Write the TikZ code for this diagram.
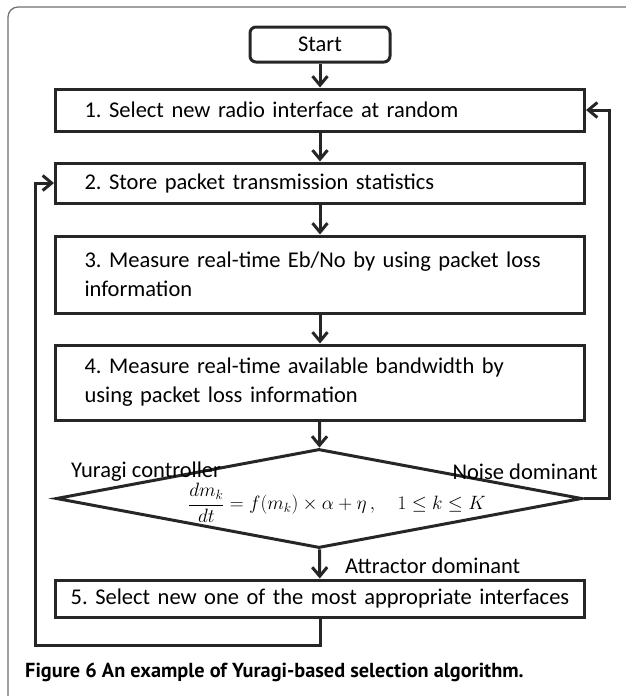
\documentclass[tikz,border=0pt]{standalone}
\usepackage{graphicx}
\usepackage{fontspec}
\setmainfont{Carlito}
\newfontfamily\capfont{PT Sans}
\usetikzlibrary{arrows.meta,shapes.geometric,positioning}

\definecolor{linegray}{HTML}{262626}
\definecolor{framegray}{HTML}{6E6E6E}

\newcommand\stepfont{\fontsize{22.5}{29}\selectfont\frenchspacing\hyphenpenalty=10000\relax}

\tikzset{
    stepbox/.style={draw=linegray,line width=3pt,minimum width=529pt,text width=471pt,
        inner xsep=29pt,inner ysep=0pt,align=left,font=\stepfont},
    startbox/.style={draw=linegray,line width=3pt,rounded corners=6pt,minimum width=140pt,
        minimum height=35pt,font=\fontsize{22.5}{26}\selectfont},
    flow/.style={draw=linegray,line width=3pt,-{Straight Barb[length=9pt,width=15pt]}},
    lbl/.style={font=\fontsize{22.5}{26}\selectfont,inner sep=0pt}
}

\begin{document}
\begin{tikzpicture}[x=1pt,y=1pt]
    \useasboundingbox (0,0) rectangle (625,-696);
    % outer frame of the figure
    \draw [framegray,line width=1.2pt,rounded corners=10pt] (8,-760) -- (8,-7) -- (700,-7);

    \node [startbox] (start) at (320,-44.5) {Start};
    \node [stepbox,minimum height=42pt] (sel) at (320,-110) {1. Select new radio interface at random};
    \node [stepbox,minimum height=40pt] (store) at (320,-183) {2. Store packet transmission statistics};
    \node [stepbox,minimum height=77pt] (ebno) at (320,-274.5) {3. Measure real-time Eb/No by using packet loss information};
    \node [stepbox,minimum height=75pt] (bw) at (320,-382.5) {4. Measure real-time available bandwidth by using packet loss information};
    \node [draw=linegray,line width=3pt,diamond,inner sep=0pt,minimum width=526pt,minimum height=99pt] (yuragi) at (319,-498.5) {};
    \node [font=\fontsize{20.74}{24}\selectfont] (eq) at (337,-503)
        {\scalebox{0.93}{$\displaystyle\frac{dm_k}{dt}=f(m_k)\times\alpha+\eta\,,\quad 1\le k\le K$}};
    \node [stepbox,minimum height=37pt,text width=520pt,inner xsep=4.5pt,align=center] (best) at (320,-598.5) {5. Select new one of the most appropriate interfaces};

    \node [lbl,anchor=west] at (71,-472) {Yuragi controller};
    \node [lbl,anchor=east] at (598,-472) {Noise dominant};
    \node [lbl,anchor=west] at (345,-566) {Attractor dominant};

    \draw [flow] (start) -- (sel);
    \draw [flow] (sel) -- (store);
    \draw [flow] (store) -- (ebno);
    \draw [flow] (ebno) -- (bw);
    \draw [flow] (bw) -- (yuragi);
    \draw [flow] (yuragi) -- (best);
    \draw [flow] (yuragi.east) -- ++(26,0) |- (sel.east);
    \draw [flow] (best.south) -- ++(0,-27) -| (35,-330) |- (store.west);

    \node [anchor=west,inner sep=0pt,font=\capfont\bfseries\fontsize{20.3}{24}\selectfont] (caption) at (25,-672)
        {Figure 6 An example of Yuragi-based selection algorithm.};
\end{tikzpicture}
\end{document}
